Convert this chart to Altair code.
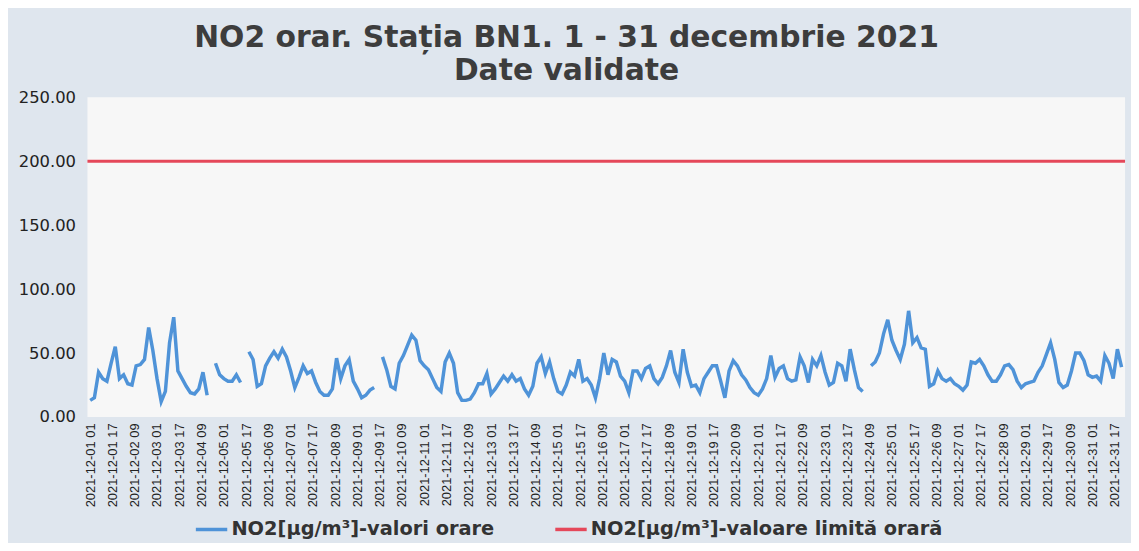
import altair as alt
import pandas as pd

# ---------------- data ----------------
TITLE = ["NO2 orar. Stația BN1. 1 - 31 decembrie 2021", "Date validate"]
SERIES_HOURLY = "NO2[µg/m³]-valori orare"
SERIES_LIMIT = "NO2[µg/m³]-valoare limită orară"

series_start = "2021-12-01 01:00"   # first hourly value (hour 01)
sample_step_hours = 3               # values read every 3 hours

# NO2 hourly concentrations (µg/m³), one row per day, sampled every 3 h; None = missing data
no2_values = [
    13, 15, 35, 30, 28, 42, 55, 30,      # 01 Dec
    33, 26, 25, 40, 41, 45, 70, 52,      # 02
    30, 12, 20, 58, 78, 36, 30, 24,      # 03
    19, 18, 22, 35, 17, None, 42, 33,    # 04
    30, 28, 28, 33, 27, None, 51, 45,    # 05
    24, 26, 40, 46, 51, 46, 53, 47,      # 06
    36, 23, 31, 40, 34, 36, 27, 20,      # 07
    17, 17, 22, 46, 30, 40, 45, 28,      # 08
    22, 15, 17, 21, 23, None, 47, 37,    # 09
    24, 22, 42, 48, 56, 64, 60, 44,      # 10
    40, 37, 30, 23, 20, 43, 50, 42,      # 11
    19, 13, 13, 14, 19, 26, 26, 34,      # 12
    18, 22, 27, 32, 28, 33, 28, 30,      # 13
    22, 17, 24, 42, 47, 34, 43, 30,      # 14
    20, 18, 25, 35, 32, 45, 28, 30,      # 15
    25, 15, 30, 50, 33, 45, 43, 32,      # 16
    28, 19, 36, 36, 30, 38, 40, 30,      # 17
    26, 31, 40, 52, 35, 27, 53, 35,      # 18
    24, 25, 19, 30, 35, 40, 40, 28,      # 19
    15, 36, 44, 40, 33, 29, 23, 19,      # 20
    17, 22, 30, 48, 31, 38, 40, 30,      # 21
    28, 29, 47, 40, 27, 45, 40, 48,      # 22
    35, 25, 27, 42, 40, 28, 53, 37,      # 23
    23, 20, None, 40, 43, 50, 65, 76,    # 24
    60, 52, 45, 57, 83, 58, 62, 54,      # 25
    53, 24, 26, 36, 30, 28, 30, 26,      # 26
    24, 21, 25, 43, 42, 45, 40, 33,      # 27
    28, 28, 33, 40, 41, 37, 28, 23,      # 28
    26, 27, 28, 35, 40, 49, 58, 45,      # 29
    27, 23, 25, 36, 50, 50, 44, 33,      # 30
    31, 32, 28, 48, 42, 30, 53, 39,      # 31
]

limit_value = [200]
y_tick_values = [0, 50, 100, 150, 200, 250]
x_tick_step_hours = 16
x_tick_count = 47

# ---------------- tables ----------------
times = pd.date_range(series_start, periods=len(no2_values), freq=f"{sample_step_hours}h")
df = pd.DataFrame({
    "t": times.strftime("%Y-%m-%dT%H:%M:%S"),
    "v": no2_values,
    "s": SERIES_HOURLY,
})
df_limit = pd.DataFrame({"v": limit_value, "s": SERIES_LIMIT})

tick_times = pd.date_range(series_start, periods=x_tick_count, freq=f"{x_tick_step_hours}h")
x_tick_values = [
    alt.DateTime(year=t.year, month=t.month, date=t.day, hours=t.hour) for t in tick_times
]

x_domain = [
    alt.DateTime(year=2021, month=11, date=30, hours=23),
    alt.DateTime(year=2022, month=1, date=1, hours=0, minutes=30),
]

color_scale = alt.Scale(domain=[SERIES_HOURLY, SERIES_LIMIT], range=["#4f93d8", "#e5485a"])

x_enc = alt.X(
    "t:T",
    scale=alt.Scale(domain=x_domain),
    axis=alt.Axis(
        values=x_tick_values,
        format="%Y-%m-%d %H",
        labelAngle=-90,
        labelFont="Liberation Sans",
        labelFontSize=13,
        labelColor="#222222",
        labelPadding=6,
        labelOverlap=False,
        labelFlush=False,
        ticks=False,
        domain=False,
        grid=False,
        title=None,
    ),
)

y_enc = alt.Y(
    "v:Q",
    scale=alt.Scale(domain=[0, 250], nice=False),
    axis=alt.Axis(
        values=y_tick_values,
        format=".2f",
        labelFont="DejaVu Sans",
        labelFontSize=16.5,
        labelColor="#222222",
        labelPadding=12,
        ticks=False,
        domain=False,
        grid=False,
        title=None,
    ),
)

legend = alt.Legend(
    orient="none",
    legendX=107,
    legendY=417,
    direction="horizontal",
    title=None,
    symbolType="stroke",
    symbolSize=1000,
    symbolStrokeWidth=3.5,
    labelFont="DejaVu Sans",
    labelFontSize=19.5,
    labelFontWeight="bold",
    labelColor="#333333",
    labelOffset=2,
    columnPadding=54,
    labelLimit=600,
)

line = alt.Chart(df).mark_line(strokeWidth=3.5).encode(
    x=x_enc,
    y=y_enc,
    color=alt.Color("s:N", scale=color_scale, legend=legend),
)

limit = alt.Chart(df_limit).mark_rule(strokeWidth=3).encode(
    y=alt.Y("v:Q"),
    color=alt.Color("s:N", scale=color_scale, legend=legend),
)

chart = (
    alt.layer(limit, line)
    .properties(
        width=1045,
        height=322,
        autosize="none",
        padding={"left": 80, "top": 88, "right": 6, "bottom": 125},
        background="#dfe6ee",
        title=alt.TitleParams(
            text=TITLE,
            anchor="middle",
            font="DejaVu Sans",
            fontSize=30,
            fontWeight="bold",
            color="#3d3d3d",
            lineHeight=34,
            offset=3,
            dx=-40,
        ),
    )
    .configure_view(fill="#f7f7f7", stroke=None)
)

chart.save("out.html", embed_options={"renderer": "svg", "actions": False})
